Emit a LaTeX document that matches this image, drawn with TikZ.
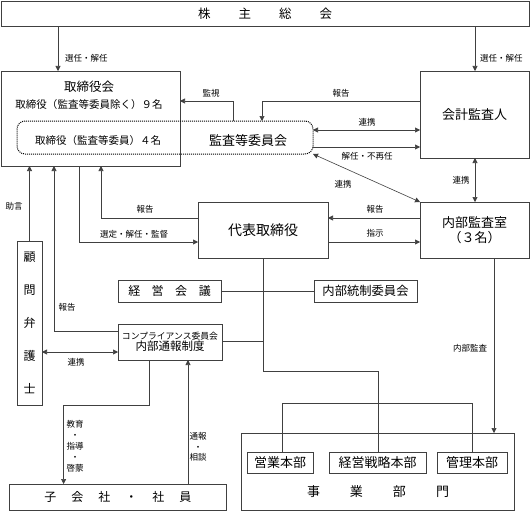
\documentclass[tikz,border=0pt]{standalone}
\usepackage{fontspec}
\setmainfont{Noto Sans CJK JP}
\usetikzlibrary{arrows.meta}
\definecolor{linec}{gray}{0.25}
\tikzset{
  box/.style={draw=linec, line width=0.6pt, inner sep=0pt, outer sep=0pt, anchor=north west, align=center},
  conn/.style={draw=linec, line width=0.6pt},
  arr/.style={conn, -{Triangle[length=5pt,width=5pt]}},
  darr/.style={conn, {Triangle[length=5pt,width=5pt]}-{Triangle[length=5pt,width=5pt]}},
  lbl/.style={inner sep=0pt, font=\fontsize{8.5}{10}\selectfont},
  big/.style={font=\fontsize{13}{15}\selectfont},
  mid/.style={inner sep=0pt, font=\fontsize{10.5}{12}\selectfont}
}
\begin{document}
\begin{tikzpicture}[x=1pt,y=-1pt]
\useasboundingbox[fill=white] (0,0) rectangle (530,511);
% boxes
\node[box, minimum width=528pt, minimum height=25.5pt, font=\fontsize{12.5}{14}\selectfont] (A) at (1,1)
  {株\hspace{28pt}主\hspace{28pt}総\hspace{28pt}会};
\node[box, minimum width=179pt, minimum height=95pt] (B) at (1,71) {};
\node[box, minimum width=109pt, minimum height=87pt, big] (C) at (420,71) {会計監査人};
\node[box, draw=black, line width=1pt, dash pattern=on 1pt off 1pt, rounded corners=8pt,
  minimum width=296pt, minimum height=33pt] (D) at (17,121) {};
\node[box, minimum width=109pt, minimum height=56pt, font=\fontsize{13}{15.5}\selectfont] (E) at (420,202) {内部監査室\\（３名）};
\node[box, minimum width=130pt, minimum height=56pt, font=\fontsize{14}{16}\selectfont] (F) at (198,202) {代表取締役};
\node[box, minimum width=25pt, minimum height=164pt, font=\fontsize{12}{33}\selectfont] (G) at (17,241) {顧\\問\\弁\\護\\士};
\node[box, minimum width=103pt, minimum height=22pt, font=\fontsize{12}{14}\selectfont] (H) at (118,280)
  {経\hspace{11.5pt}営\hspace{11.5pt}会\hspace{11.5pt}議};
\node[box, minimum width=103pt, minimum height=22pt, font=\fontsize{12.3}{14}\selectfont] (I) at (314,280) {内部統制委員会};
\node[box, minimum width=104pt, minimum height=36pt] (J) at (118,324)
  {{\fontsize{8.8}{13}\selectfont コンプライアンス委員会}\\[-1pt]{\fontsize{11.5}{13}\selectfont 内部通報制度}};
\node[box, minimum width=216.5pt, minimum height=26pt, font=\fontsize{12}{14}\selectfont] (K) at (9.5,484)
  {子\hspace{15pt}会\hspace{15pt}社\hspace{15pt}・\hspace{15pt}社\hspace{15pt}員};
\node[box, minimum width=273pt, minimum height=77pt] (L) at (241,433) {};
\node[box, minimum width=66pt, minimum height=21pt, big] (M1) at (247,452) {営業本部};
\node[box, minimum width=97pt, minimum height=21pt, big] (M2) at (329,452) {経営戦略本部};
\node[box, minimum width=70pt, minimum height=21pt, big] (M3) at (437,452) {管理本部};
% texts inside boxes
\node[inner sep=0pt, font=\fontsize{12.5}{14}\selectfont] (Bt1) at (89,86.5) {取締役会};
\node[mid] (Bt2) at (89,105) {取締役（監査等委員除く）９名};
\node[mid] (Dt1) at (98,141) {取締役（監査等委員）４名};
\node[inner sep=0pt, big] (Dt2) at (248,141) {監査等委員会};
\node[inner sep=0pt, big] (Lt) at (378,492) {事\hspace{30pt}業\hspace{30pt}部\hspace{30pt}門};
% connectors
\draw[arr] (A.south -| 58,0) -- (B.north -| 58,0);
\draw[arr] (A.south -| 475,0) -- (C.north -| 475,0);
\draw[arr] (D.north -| 233,0) |- (B.east |- 0,101);
\draw[arr] (C.west |- 0,101) -| (D.north -| 262,0);
\draw[darr] (D.east |- 0,130) -- (C.west |- 0,130);
\draw[arr] (D.east |- 0,147) -- (C.west |- 0,147);
\draw[darr] (D.south east) -- (E.north west);
\draw[darr] (C.south -| 475,0) -- (E.north -| 475,0);
\draw[arr] (E.west |- 0,218) -- (F.east |- 0,218);
\draw[arr] (F.east |- 0,242) -- (E.west |- 0,242);
\draw[arr] (F.west |- 0,218) -| (B.south -| 101,0);
\draw[arr] (B.south -| 79,0) |- (F.west |- 0,242);
\draw[arr] (G.north) -- (G.north |- B.south);
\draw[arr] (J.west |- 0,331) -| (B.south -| 54,0);
\draw[darr] (G.east |- 0,352) -- (J.west |- 0,352);
\draw[arr] (J.south -| 149,0) |- (63.6,405.5) -- (K.north -| 63.6,0);
\draw[arr] (K.north -| 188,0) -- (J.south -| 188,0);
\draw[conn] (H.east) -- (I.west);
\coordinate (jx) at (F.south |- 0,341.5);
\draw[conn] (J.east |- jx) -- (jx);
\draw[conn] (F.south) |- (378,371) -- (M2.north -| 378,0);
\draw[conn] (M1.north -| 282,0) -- (282,403) -- (472,403) -- (M3.north -| 472,0);
\draw[arr] (E.south -| 494,0) -- (L.north -| 494,0);
% labels
\node[lbl, anchor=west] (l1) at (65,58) {選任・解任};
\node[lbl, anchor=west] (l2) at (480,58) {選任・解任};
\node[lbl] (l3) at (211,93) {監視};
\node[lbl] (l4) at (341,93) {報告};
\node[lbl] (l5) at (367,122) {連携};
\node[lbl] (l6) at (367,156) {解任・不再任};
\node[lbl] (l7) at (343,184) {連携};
\node[lbl] (l8) at (461,180) {連携};
\node[lbl] (l9) at (375,209) {報告};
\node[lbl] (l10) at (375,233) {指示};
\node[lbl] (l11) at (145,209) {報告};
\node[lbl] (l12) at (134,234) {選定・解任・監督};
\node[lbl] (l13) at (14,206) {助言};
\node[lbl] (l14) at (67,307) {報告};
\node[lbl] (l15) at (76,362) {連携};
\node[lbl, align=center, font=\fontsize{8.5}{11}\selectfont] (l16) at (75,446) {教育\\・\\指導\\・\\啓蒙};
\node[lbl, align=center, font=\fontsize{8.5}{10.5}\selectfont] (l17) at (198,447) {通報\\・\\相談};
\node[lbl] (l18) at (470,348) {内部監査};
\end{tikzpicture}
\end{document}
